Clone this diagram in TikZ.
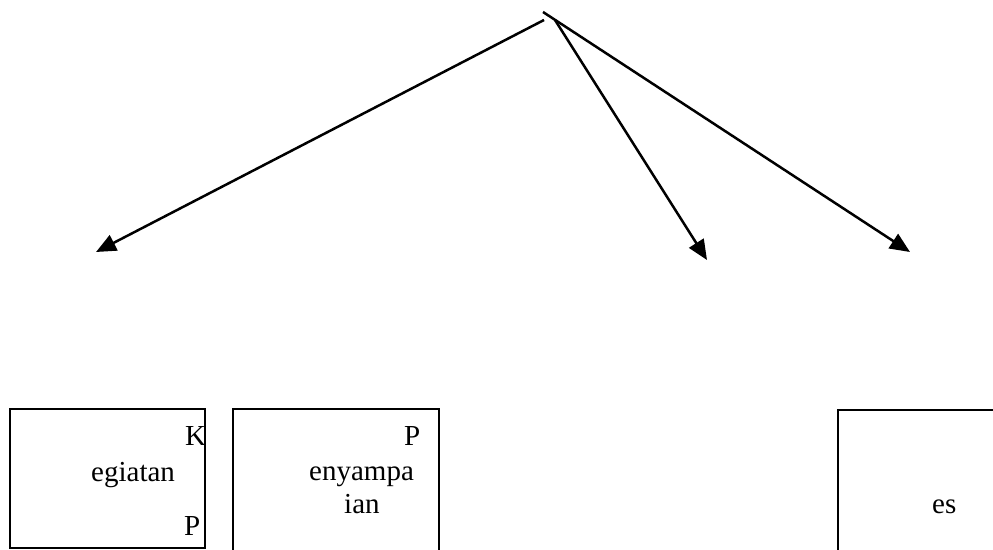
\documentclass[tikz,border=0pt]{standalone}
\usepackage{fontspec}
\setmainfont{Liberation Serif}
\usetikzlibrary{arrows.meta}
\begin{document}
\begin{tikzpicture}[x=1pt,y=1pt,
  boxnode/.style={draw,line width=1.8pt,rectangle,inner sep=0pt,anchor=north west},
  txt/.style={anchor=base west,inner sep=0pt,font=\fontsize{29}{33}\selectfont},
  arr/.style={line width=2.5pt,-{Triangle[length=20pt,width=17pt]}}]
\useasboundingbox (0,0) rectangle (993,549);
% boxes
\node[boxnode,minimum width=195pt,minimum height=139pt] (b1) at (9,141) {};
\node[boxnode,minimum width=206pt,minimum height=145pt] (b2) at (232,141) {};
\node[boxnode,minimum width=165pt,minimum height=145pt] (b3) at (837,140) {};
% texts
\node[txt] (k1) at (185,103) {K};
\node[txt] (e1) at (91,68) {egiatan};
\node[txt] (p1) at (184,14) {P};
\node[txt] (p2) at (404,103) {P};
\node[txt] (e2) at (309,69) {enyampa};
\node[txt] (i2) at (344,36) {ian};
\node[txt] (s3) at (932,36) {es};
% connectors
\coordinate (sl) at (544,529);
\coordinate (sr) at (543,537);
\coordinate (sm) at (555,529);
\coordinate (tl) at (96,297);
\coordinate (tm) at (707,289);
\coordinate (tr) at (910,297);
\draw[arr] (sl) -- (tl);
\draw[arr] (sr) -- (tr);
\draw[arr] (sm) -- (tm);
\end{tikzpicture}
\end{document}
